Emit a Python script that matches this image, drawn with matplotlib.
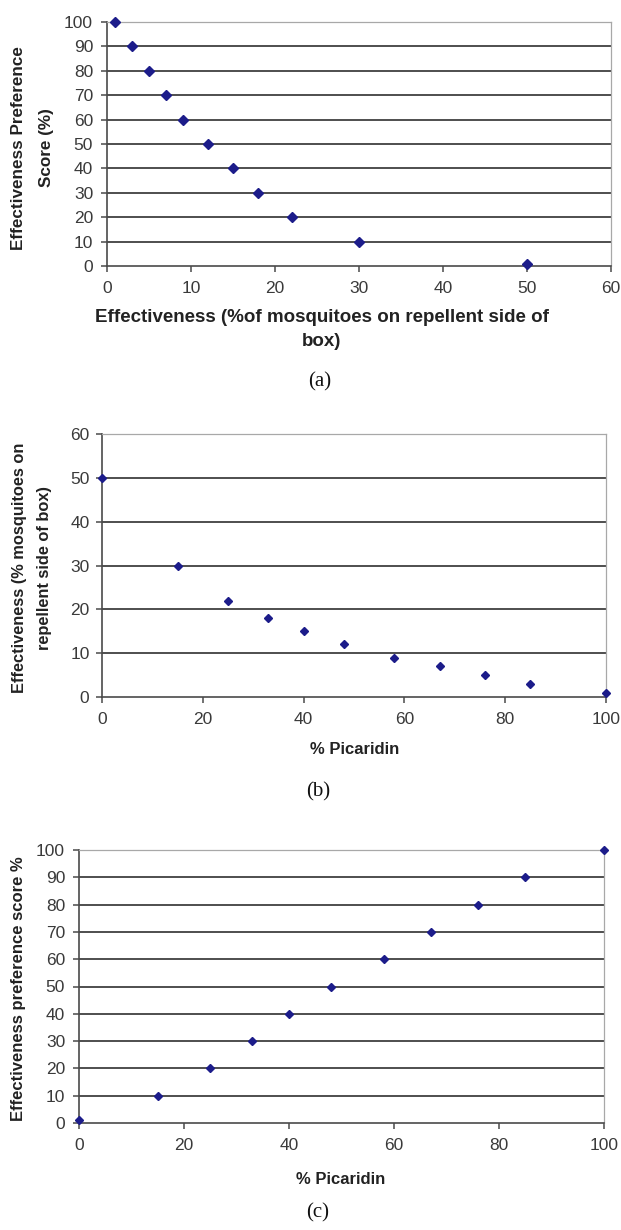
import matplotlib
matplotlib.use("Agg")
import matplotlib.pyplot as plt
import numpy as np

# ---- data ----
a_x = [1, 3, 5, 7, 9, 12, 15, 18, 22, 30, 50]
a_y = [100, 90, 80, 70, 60, 50, 40, 30, 20, 10, 1]
b_x = [0, 15, 25, 33, 40, 48, 58, 67, 76, 85, 100]
b_y = [50, 30, 22, 18, 15, 12, 9, 7, 5, 3, 1]
c_x = [0, 15, 25, 33, 40, 48, 58, 67, 76, 85, 100]
c_y = [1, 10, 20, 30, 40, 50, 60, 70, 80, 90, 100]

a_xticks = [0, 10, 20, 30, 40, 50, 60]
a_yticks = [0, 10, 20, 30, 40, 50, 60, 70, 80, 90, 100]
b_xticks = [0, 20, 40, 60, 80, 100]
b_yticks = [0, 10, 20, 30, 40, 50, 60]
c_xticks = [0, 20, 40, 60, 80, 100]
c_yticks = [0, 10, 20, 30, 40, 50, 60, 70, 80, 90, 100]

W, H = 621, 1230
fig = plt.figure(figsize=(W / 100, H / 100), dpi=100)
SANS = ["Liberation Sans", "DejaVu Sans"]
SERIF = ["Liberation Serif", "DejaVu Serif"]
MARK = "#1c1c8a"
TICKC = "#3a3a3a"
LABC = "#222222"


def make_axes(l, r, t, b):
    return fig.add_axes([l / W, 1 - b / H, (r - l) / W, (b - t) / H])


def style(ax, x, y, xt, yt, ms, ypad):
    xlim = (xt[0], xt[-1])
    ylim = (yt[0], yt[-1])
    ax.set_xlim(*xlim)
    ax.set_ylim(*ylim)
    ax.set_xticks(xt)
    ax.set_yticks(yt)
    ax.hlines(yt[1:-1], xlim[0], xlim[1], colors="#1e1e1e", linewidth=1.1, zorder=1)
    ax.plot(x, y, linestyle="none", marker="D", markersize=ms, color=MARK,
            markeredgecolor=MARK, clip_on=False, zorder=5)
    for s in ("top", "right"):
        ax.spines[s].set_color("#a8a8a8")
        ax.spines[s].set_linewidth(0.9)
    for s in ("left", "bottom"):
        ax.spines[s].set_color("#4a4a4a")
        ax.spines[s].set_linewidth(1.2)
    ax.tick_params(axis="both", direction="out", length=4, width=1.1, color="#4a4a4a",
                   labelcolor=TICKC, labelsize=12.5)
    ax.tick_params(axis="x", pad=7)
    ax.tick_params(axis="y", pad=ypad)
    for lab in ax.get_xticklabels() + ax.get_yticklabels():
        lab.set_family(SANS)


# ---- panel (a) ----
axa = make_axes(107, 611, 22, 266)
style(axa, a_x, a_y, a_xticks, a_yticks, 4.8, 6)
fig.text(322 / W, 1 - 317 / H, "Effectiveness (%of mosquitoes on repellent side of",
         ha="center", va="center", fontsize=13.5, fontweight="bold", family=SANS, color=LABC)
fig.text(322 / W, 1 - 342 / H, "box)", ha="center", va="center", fontsize=13.5,
         fontweight="bold", family=SANS, color=LABC)
fig.text(19 / W, 1 - 148 / H, "Effectiveness Preference", rotation=90, ha="center",
         va="center", fontsize=12.3, fontweight="bold", family=SANS, color=LABC)
fig.text(46 / W, 1 - 148 / H, "Score (%)", rotation=90, ha="center",
         va="center", fontsize=12.3, fontweight="bold", family=SANS, color=LABC)
fig.text(320 / W, 1 - 382 / H, "(a)", ha="center", va="center", fontsize=15, family=SERIF,
         color="#111111")

# ---- panel (b) ----
axb = make_axes(102, 606, 434, 697)
style(axb, b_x, b_y, b_xticks, b_yticks, 4.3, 5)
fig.text(355 / W, 1 - 750 / H, "% Picaridin", ha="center", va="center", fontsize=12,
         fontweight="bold", family=SANS, color=LABC)
fig.text(20 / W, 1 - 568 / H, "Effectiveness (% mosquitoes on", rotation=90, ha="center",
         va="center", fontsize=11.8, fontweight="bold", family=SANS, color=LABC)
fig.text(45 / W, 1 - 568 / H, "repellent side of box)", rotation=90, ha="center",
         va="center", fontsize=11.8, fontweight="bold", family=SANS, color=LABC)
fig.text(318 / W, 1 - 792 / H, "(b)", ha="center", va="center", fontsize=15, family=SERIF,
         color="#111111")

# ---- panel (c) ----
axc = make_axes(79, 604, 850, 1123)
style(axc, c_x, c_y, c_xticks, c_yticks, 3.6, 6)
fig.text(341 / W, 1 - 1180 / H, "% Picaridin", ha="center", va="center", fontsize=12,
         fontweight="bold", family=SANS, color=LABC)
fig.text(19 / W, 1 - 989 / H, "Effectiveness preference score %", rotation=90, ha="center",
         va="center", fontsize=12, fontweight="bold", family=SANS, color=LABC)
fig.text(318 / W, 1 - 1213 / H, "(c)", ha="center", va="center", fontsize=15, family=SERIF,
         color="#111111")

fig.savefig("out.png", dpi=100)
